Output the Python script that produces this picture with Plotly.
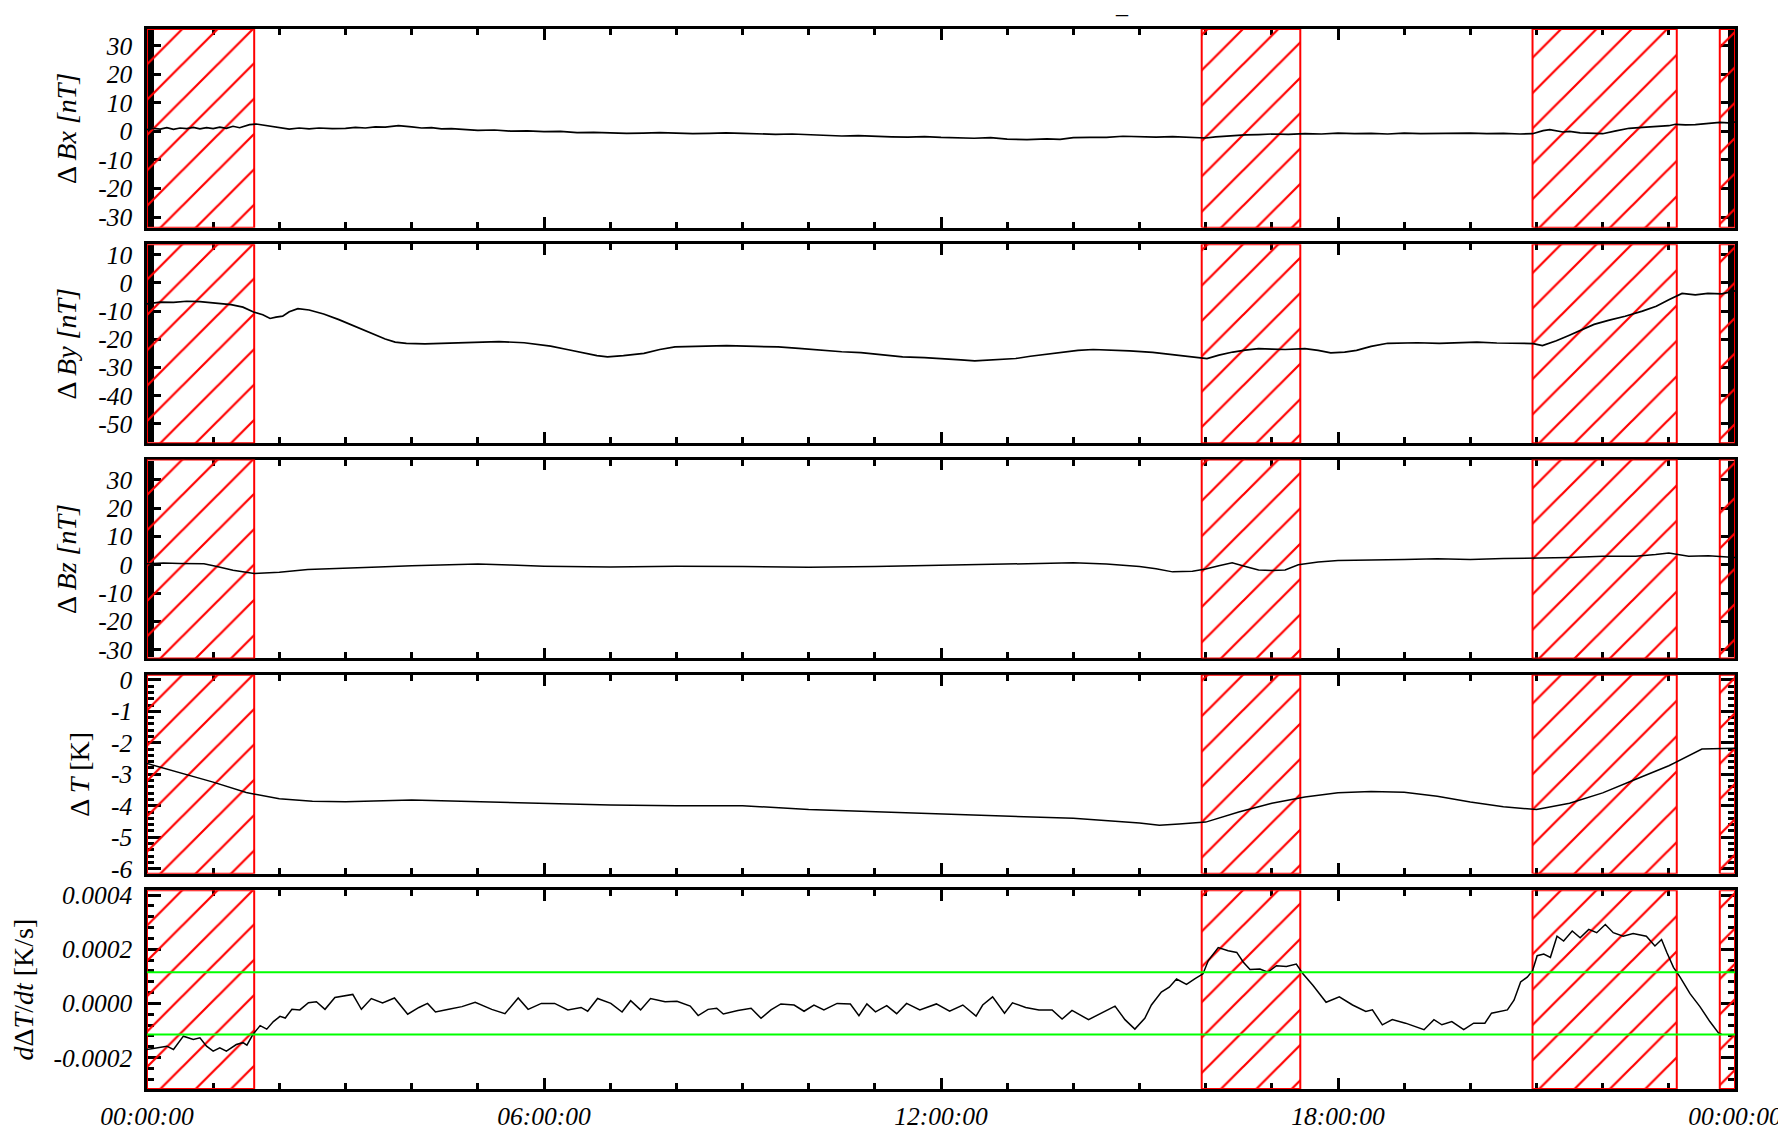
"""
Five stacked panels: magnetic field residuals, temperature residual and its rate,
with the flagged intervals hatched in red.
"""
import plotly.graph_objects as go
from plotly.subplots import make_subplots

# flagged intervals (hours of day)
flag_starts = [0.0, 15.94, 20.94, 23.77]
flag_ends = [1.62, 17.43, 23.12, 24.0]

# threshold on dT/dt [K/s]
dtdt_threshold = 0.000115

bx_hours = [0, 0.1, 0.2, 0.3, 0.4, 0.5, 0.6, 0.7, 0.8, 0.9, 1.0, 1.1, 1.2, 1.3, 1.4, 1.5,
            1.55, 1.65, 1.8, 2.0, 2.15, 2.3, 2.45, 2.6, 2.8, 3.0, 3.15, 3.3, 3.45, 3.6, 3.8,
            4.0, 4.15, 4.3, 4.45, 4.6, 4.8, 5.0, 5.25, 5.5, 5.75, 6.0, 6.25, 6.5, 6.75, 7.0,
            7.25, 7.5, 7.75, 8.0, 8.25, 8.5, 8.75, 9.0, 9.25, 9.5, 9.75, 10.0, 10.25, 10.5,
            10.75, 11.0, 11.25, 11.5, 11.75, 12.0, 12.25, 12.5, 12.75, 13.0, 13.3, 13.6,
            13.8, 14.0, 14.25, 14.5, 14.75, 15.0, 15.25, 15.5, 15.75, 16.0, 16.15, 16.3,
            16.6, 16.8, 17.0, 17.25, 17.5, 17.75, 18.0, 18.25, 18.5, 18.75, 19.0, 19.25,
            19.5, 19.75, 20.0, 20.25, 20.5, 20.75, 20.94, 21.1, 21.2, 21.4, 21.5, 21.66,
            21.8, 22.0, 22.2, 22.4, 22.6, 22.8, 23.0, 23.1, 23.25, 23.4, 23.6, 23.77, 23.9,
            24.0]
bx_values = [0.6, 1.1, 0.8, 1.3, 0.7, 1.2, 1.0, 1.4, 0.9, 1.3, 1.0, 1.5, 1.1, 1.8, 1.3, 2.1,
             2.4, 2.6, 2.0, 1.3, 0.8, 1.2, 0.9, 1.2, 1.0, 1.1, 1.4, 1.2, 1.6, 1.5, 2.0,
             1.6, 1.2, 1.3, 0.9, 1.0, 0.6, 0.4, 0.5, 0.1, 0.2, -0.1, 0.0, -0.4, -0.3, -0.5,
             -0.7, -0.6, -0.4, -0.6, -0.8, -0.7, -0.5, -0.7, -0.9, -1.0, -0.9, -1.2, -1.4,
             -1.6, -1.5, -1.8, -1.9, -2.0, -1.8, -2.1, -2.3, -2.4, -2.2, -2.7, -2.9, -2.6,
             -2.8, -2.2, -2.1, -2.1, -1.7, -1.9, -2.0, -1.8, -2.1, -2.3, -1.9, -1.6,
             -1.2, -1.1, -0.9, -1.0, -0.8, -0.9, -0.6, -0.8, -0.7, -0.9, -0.6, -0.8,
             -0.7, -0.6, -0.6, -0.8, -0.7, -0.9, -0.8, 0.3, 0.6, -0.2, 0.0, -0.5,
             -0.7, -0.8, 0.2, 1.1, 1.4, 1.7, 2.0, 2.5, 2.3, 2.4, 2.8, 3.2, 3.0,
             3.3]

by_hours = [0, 0.2, 0.4, 0.6, 0.8, 1.0, 1.27, 1.45, 1.61, 1.75, 1.86, 1.95, 2.05, 2.15, 2.28,
            2.45, 2.67, 2.9, 3.14, 3.4, 3.6, 3.75, 3.92, 4.2, 4.54, 5.0, 5.32, 5.7, 6.1,
            6.35, 6.57, 6.8, 6.96, 7.2, 7.51, 7.75, 7.98, 8.4, 8.76, 9.2, 9.54, 9.85, 10.17,
            10.5, 10.79, 11.1, 11.42, 11.75, 12.04, 12.3, 12.51, 12.8, 13.13, 13.35, 13.6,
            13.85, 14.07, 14.3, 14.5, 14.85, 15.2, 15.48, 15.75, 16.02, 16.2, 16.41, 16.6,
            16.8, 17.0, 17.2, 17.5, 17.7, 17.89, 18.1, 18.28, 18.5, 18.75, 19.2, 19.53, 19.8,
            20.1, 20.4, 20.62, 20.95, 21.09, 21.3, 21.48, 21.7, 21.87, 22.1, 22.34, 22.6,
            22.81, 23.0, 23.2, 23.4, 23.59, 23.8, 24.0]
by_values = [-7.4, -6.8, -6.9, -6.5, -6.6, -7.0, -7.7, -8.6, -10.3, -11.3, -12.6, -12.1, -11.8,
             -10.2, -9.1, -9.6, -11.0, -13.0, -15.3, -18.0, -19.9, -21.0, -21.4, -21.6, -21.4,
             -21.0, -20.8, -21.2, -22.4, -23.6, -24.8, -25.8, -26.2, -25.8, -25.0, -23.6, -22.7,
             -22.4, -22.2, -22.5, -22.7, -23.2, -23.9, -24.4, -24.7, -25.4, -26.2, -26.5, -26.8,
             -27.3, -27.6, -27.3, -26.8, -26.0, -25.3, -24.5, -23.9, -23.6, -23.7, -24.1, -24.6,
             -25.3, -26.0, -26.8, -25.6, -24.5, -23.8, -23.3, -23.5, -23.6, -23.3, -23.9, -24.8,
             -24.5, -23.9, -22.5, -21.4, -21.2, -21.4, -21.1, -21.0, -21.3, -21.4, -21.5, -22.2,
             -20.5, -18.7, -16.5, -14.7, -13.2, -11.8, -10.0, -8.3, -6.0, -3.7, -4.2, -3.7,
             -3.9, -2.8]

bz_hours = [0, 0.25, 0.5, 0.86, 1.04, 1.3, 1.62, 2.0, 2.43, 3.0, 3.5, 4.0, 4.5, 5.0, 5.5, 6.0,
            7.0, 8.0, 9.0, 10.0, 11.0, 12.0, 13.0, 13.5, 14.0, 14.5, 15.0, 15.25, 15.5, 15.8,
            16.0, 16.2, 16.4, 16.6, 16.8, 17.0, 17.2, 17.4, 17.7, 18.0, 18.5, 19.0, 19.5, 20.0,
            20.5, 21.0, 21.5, 22.0, 22.5, 22.8, 23.0, 23.3, 23.6, 24.0]
bz_values = [0.4, 0.6, 0.5, 0.4, -0.5, -1.9, -3.1, -2.6, -1.7, -1.3, -0.8, -0.3, 0.0, 0.3,
             -0.1, -0.5, -0.8, -0.5, -0.6, -0.9, -0.6, -0.2, 0.3, 0.5, 0.7, 0.3, -0.6, -1.4,
             -2.5, -2.3, -1.5, -0.3, 0.7, -0.6, -1.8, -2.0, -1.8, 0.0, 1.0, 1.5, 1.8, 1.9,
             2.1, 1.9, 2.2, 2.3, 2.6, 3.0, 3.0, 3.6, 4.2, 3.0, 3.2, 2.6]

t_hours = [0, 0.5, 1.0, 1.5, 2.0, 2.5, 3.0, 4.0, 5.0, 6.0, 7.0, 8.0, 9.0, 10.0, 11.0, 12.0,
           13.0, 14.0, 15.0, 15.3, 15.6, 16.0, 16.5, 17.0, 17.5, 18.0, 18.5, 19.0, 19.5, 20.0,
           20.5, 21.0, 21.5, 22.0, 22.5, 23.0, 23.5, 24.0]
t_values = [-2.66, -2.95, -3.25, -3.58, -3.78, -3.86, -3.87, -3.82, -3.87, -3.94, -3.98, -4.0,
            -4.0, -4.12, -4.19, -4.26, -4.33, -4.40, -4.55, -4.62, -4.58, -4.52, -4.2, -3.92,
            -3.72, -3.59, -3.55, -3.57, -3.70, -3.88, -4.03, -4.12, -3.92, -3.59, -3.16, -2.73,
            -2.2, -2.17]

dtdt_hours = [0.0, 0.15, 0.3, 0.4, 0.55, 0.7, 0.8, 0.9, 1.0, 1.1, 1.2, 1.35, 1.45, 1.51, 1.6,
              1.71, 1.81, 1.91, 2.01, 2.09, 2.19, 2.31, 2.44, 2.56, 2.69, 2.84, 3.01, 3.11, 3.24,
              3.39, 3.56, 3.74, 3.94, 4.11, 4.24, 4.36, 4.56, 4.76, 4.96, 5.21, 5.41, 5.61, 5.76,
              5.96, 6.16, 6.36, 6.56, 6.66, 6.81, 7.01, 7.18, 7.31, 7.46, 7.61, 7.83, 8.01, 8.21,
              8.33, 8.48, 8.61, 8.71, 8.93, 9.13, 9.28, 9.43, 9.58, 9.78, 9.93, 10.08, 10.23,
              10.43, 10.63, 10.76, 10.88, 11.01, 11.18, 11.33, 11.48, 11.68, 11.93, 12.13, 12.33,
              12.53, 12.63, 12.78, 12.96, 13.08, 13.28, 13.48, 13.68, 13.83, 13.98, 14.23, 14.43,
              14.63, 14.78, 14.93, 15.08, 15.18, 15.33, 15.45, 15.56, 15.71, 15.84, 15.96, 16.04,
              16.19, 16.34, 16.47, 16.57, 16.67, 16.82, 16.94, 17.07, 17.22, 17.37, 17.47, 17.62,
              17.82, 18.02, 18.22, 18.42, 18.52, 18.67, 18.82, 19.02, 19.17, 19.3, 19.45, 19.57,
              19.72, 19.9, 20.05, 20.22, 20.32, 20.47, 20.56, 20.66, 20.76, 20.86, 20.94, 21.01,
              21.11, 21.21, 21.31, 21.41, 21.54, 21.66, 21.79, 21.91, 22.04, 22.16, 22.31, 22.46,
              22.66, 22.79, 22.89, 22.97, 23.07, 23.17, 23.32, 23.47, 23.62, 23.75, 23.8]
dtdt_values = [-1.70e-4, -1.64e-4, -1.58e-4, -1.70e-4, -1.21e-4, -1.33e-4, -1.27e-4, -1.58e-4,
               -1.76e-4, -1.64e-4, -1.76e-4, -1.52e-4, -1.45e-4, -1.54e-4, -1.15e-4, -8.2e-5,
               -9.5e-5, -6.7e-5, -4.8e-5, -5.4e-5, -2.2e-5, -2.4e-5, 2.4e-6, 6e-6, -2.2e-5,
               2.2e-5, 3.0e-5, 3.3e-5, -2.2e-5, 1.8e-5, 2e-6, 2.0e-5, -4.0e-5, -1.5e-5, 0.0,
               -3.2e-5, -2.2e-5, -1.2e-5, 4e-6, -2.2e-5, -3.8e-5, 2.0e-5, -2.2e-5, 0.0, 0.0,
               -2.4e-5, -1.5e-5, -2.9e-5, 1.8e-5, 0.0, -3.2e-5, 1.0e-5, -2.4e-5, 1.8e-5, 6e-6,
               8e-6, -1.0e-5, -4.5e-5, -2.2e-5, -1.8e-5, -3.9e-5, -2.6e-5, -1.8e-5, -5.5e-5,
               -2.4e-5, -2e-6, -6e-6, -2.9e-5, -6e-6, -2.4e-5, 0.0, -2e-6, -4.5e-5, -2e-6,
               -3.1e-5, -8e-6, -3.8e-5, 0.0, -2.4e-5, -2e-6, -2.9e-5, -6e-6, -4.7e-5, -6e-6,
               2.4e-5, -3.6e-5, 2e-6, -1.5e-5, -2.4e-5, -2.4e-5, -5.8e-5, -2.6e-5, -6.0e-5,
               -3.6e-5, -1.0e-5, -6.0e-5, -9.5e-5, -5.5e-5, -6e-6, 4.2e-5, 6.0e-5, 9.0e-5,
               7.0e-5, 9.1e-5, 1.09e-4, 1.58e-4, 2.06e-4, 1.94e-4, 1.88e-4, 1.52e-4, 1.25e-4,
               1.27e-4, 1.15e-4, 1.39e-4, 1.36e-4, 1.45e-4, 1.09e-4, 6.7e-5, 4e-6, 2.4e-5,
               -6e-6, -3.0e-5, -2.4e-5, -7.9e-5, -6.0e-5, -7.3e-5, -8.5e-5, -9.7e-5, -6.0e-5,
               -7.9e-5, -6.7e-5, -9.7e-5, -7.3e-5, -7.3e-5, -3.6e-5, -3.0e-5, -2.4e-5, 1.2e-5,
               7.9e-5, 9.7e-5, 1.21e-4, 1.76e-4, 1.82e-4, 1.70e-4, 2.48e-4, 2.30e-4, 2.67e-4,
               2.42e-4, 2.73e-4, 2.61e-4, 2.91e-4, 2.61e-4, 2.48e-4, 2.58e-4, 2.48e-4, 2.12e-4,
               2.36e-4, 1.88e-4, 1.33e-4, 9.7e-5, 3.6e-5, -1.2e-5, -6.7e-5, -1.09e-4, -1.15e-4]

x_tickvals = [0, 6, 12, 18, 24]
x_ticktext = ['00:00:00', '06:00:00', '12:00:00', '18:00:00', '00:00:00']
x_minor_step = 1  # hours between small ticks

panels = [
    dict(hours=bx_hours, values=bx_values, title='Δ <i>Bx [nT]</i>', yrange=[-33.8, 35.9],
         ticks=[-30, -20, -10, 0, 10, 20, 30], minor=1, width=1.7),
    dict(hours=by_hours, values=by_values, title='Δ <i>By [nT]</i>', yrange=[-56.8, 13.7],
         ticks=[-50, -40, -30, -20, -10, 0, 10], minor=1, width=1.7),
    dict(hours=bz_hours, values=bz_values, title='Δ <i>Bz [nT]</i>', yrange=[-33.1, 37.2],
         ticks=[-30, -20, -10, 0, 10, 20, 30], minor=1, width=1.5),
    dict(hours=t_hours, values=t_values, title='Δ <i>T</i> [K]', yrange=[-6.16, 0.16],
         ticks=[-6, -5, -4, -3, -2, -1, 0], minor=0.2, width=1.5),
    dict(hours=dtdt_hours, values=dtdt_values, title='<i>d</i>Δ<i>T</i>/<i>dt</i> [K/s]',
         yrange=[-0.000316, 0.000418], ticks=[-0.0002, 0.0, 0.0002, 0.0004], minor=0.00004,
         ticktext=['-0.0002', '0.0000', '0.0002', '0.0004'], width=1.5),
]

FONT = 'Liberation Serif'
N = len(panels)


def ax_id(letter, i):
    """plotly axis reference ('x', 'x2', ...)"""
    return letter if i == 1 else '{}{}'.format(letter, i)


fig = make_subplots(rows=N, cols=1, shared_xaxes=True, vertical_spacing=0.0155)

for row, p in enumerate(panels, start=1):
    lo, hi = p['yrange']
    # hatched flagged intervals, one polygon per interval
    xs, ys = [], []
    for s, e in zip(flag_starts, flag_ends):
        xs += [s, s, e, e, s, None]
        ys += [lo, hi, hi, lo, lo, None]
    fig.add_trace(go.Scatter(x=xs, y=ys, mode='lines', fill='toself',
                             fillcolor='rgba(0,0,0,0)',
                             fillpattern=dict(shape='/', fgcolor='#ff0000', fgopacity=1,
                                              bgcolor='rgba(0,0,0,0)', fillmode='overlay',
                                              size=25, solidity=0.09),
                             line=dict(color='#ff0000', width=2), hoverinfo='skip'),
                  row=row, col=1)
    fig.add_trace(go.Scatter(x=p['hours'], y=p['values'], mode='lines',
                             line=dict(color='black', width=p['width'])), row=row, col=1)

    ticktext = p.get('ticktext', [str(v) for v in p['ticks']])
    fig.update_yaxes(range=[lo, hi], tickmode='array', tickvals=p['ticks'], ticktext=ticktext,
                     title=dict(text=p['title'], standoff=14,
                                font=dict(family=FONT, size=28, color='black')),
                     row=row, col=1)

# threshold lines on the last panel
for level in [dtdt_threshold, -dtdt_threshold]:
    fig.add_trace(go.Scatter(x=[x_tickvals[0], x_tickvals[-1]], y=[level, level], mode='lines',
                             line=dict(color='#00ff00', width=2)), row=N, col=1)

fig.update_yaxes(showline=True, linewidth=2.5, linecolor='black', mirror='ticks',
                 ticks='inside', ticklen=14, tickwidth=2.5, tickcolor='black',
                 showgrid=False, zeroline=False, layer='below traces', ticklabelstandoff=7,
                 tickfont=dict(family=FONT, size=25.5, color='black', style='italic'))
fig.update_xaxes(range=[0, 24], tickmode='array', tickvals=x_tickvals, ticktext=x_ticktext,
                 showline=True, linewidth=2.5, linecolor='black', mirror='ticks',
                 ticks='inside', ticklen=11, tickwidth=2.5, tickcolor='black',
                 showgrid=False, zeroline=False, layer='below traces', ticklabelstandoff=3,
                 tickfont=dict(family=FONT, size=25.5, color='black', style='italic'))

# small ticks: drawn as the ticks of unlabeled overlay axes, mirrored on both edges
# (thinner ticks than 2.5 px vanish on the left edge, so keep them at 2.5)
for row, p in enumerate(panels, start=1):
    ny = nx = N + row
    fig.update_layout({
        'yaxis{}'.format(ny): dict(
            overlaying=ax_id('y', row), anchor=ax_id('x', row), side='left',
            range=p['yrange'], showticklabels=False, ticks='inside', ticklen=7, tickwidth=2.5,
            tickcolor='black', tickmode='linear', tick0=0, dtick=p['minor'],
            showline=False, showgrid=False, zeroline=False, mirror='ticks',
            layer='below traces'),
        'xaxis{}'.format(nx): dict(
            overlaying=ax_id('x', row), anchor=ax_id('y', row), side='bottom',
            range=[0, 24], showticklabels=False, ticks='inside', ticklen=6, tickwidth=2.5,
            tickcolor='black', tickmode='linear', tick0=0, dtick=x_minor_step,
            showline=False, showgrid=False, zeroline=False, mirror='ticks',
            layer='below traces'),
    })
    fig.add_trace(go.Scatter(x=[None], y=[None], xaxis=ax_id('x', row),
                             yaxis=ax_id('y', ny), hoverinfo='skip'))
    fig.add_trace(go.Scatter(x=[None], y=[None], xaxis=ax_id('x', nx),
                             yaxis=ax_id('y', row), hoverinfo='skip'))

# clipped title remnant at the very top
fig.add_annotation(text='_', xref='paper', yref='paper', x=0.614, y=1, yanchor='bottom',
                   yshift=9, showarrow=False, font=dict(family=FONT, size=24, color='black'))

fig.update_layout(width=1786, height=1135, showlegend=False,
                  plot_bgcolor='white', paper_bgcolor='white',
                  margin=dict(l=139, r=51, t=12, b=43))

fig.write_html("out.html")
